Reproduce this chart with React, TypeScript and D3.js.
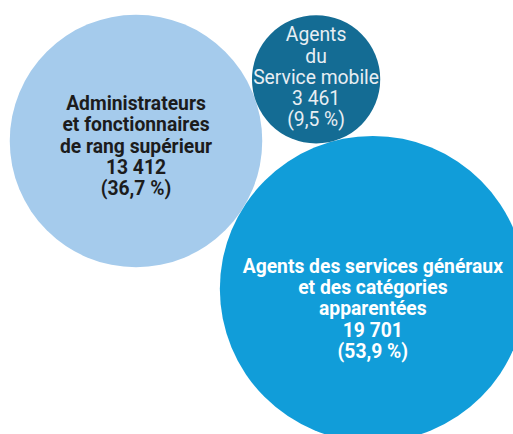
import React, { useRef, useEffect } from "react";
import * as d3 from "d3";

// catégories de personnel
const categories = [
  "Administrateurs et fonctionnaires de rang supérieur",
  "Agents des services généraux et des catégories apparentées",
  "Agents du Service mobile",
];
const labelLines = [
  ["Administrateurs", "et fonctionnaires", "de rang supérieur"],
  ["Agents des services généraux", "et des catégories", "apparentées"],
  ["Agents", "du", "Service mobile"],
];
const values = [13412, 19701, 3461];

const colors = ["#a5cbec", "#119dd9", "#146c94"];
const textColors = ["#1c1c1c", "#ffffff", "#e8eef3"];
const textWeights = [700, 700, 400];
const labelShift = [5, 20, -2];

const W = 513;
const H = 434;

const locale = d3.formatLocale({
  decimal: ",",
  thousands: "\u00a0",
  grouping: [3],
  currency: ["", " €"],
});
const fmtInt = locale.format(",d");
const fmtPct = locale.format(".1f");

const App: React.FC = () => {
  const svgRef = useRef<SVGSVGElement | null>(null);

  useEffect(() => {
    if (!svgRef.current) return;
    const svg = d3.select(svgRef.current);
    svg.selectAll("*").remove();

    const total = d3.sum(values);
    const r = d3.scaleSqrt().domain([0, d3.max(values)!]).range([0, 153]);

    const nodes = values.map((v, i) => ({ i, v, r: r(v), x: 0, y: 0 }));
    d3.packSiblings(nodes);

    // orienter la grappe : grand cercle en bas à droite, petit en haut
    const a = nodes[0];
    const b = nodes[1];
    const c = nodes[2];
    const cross = (b.x - a.x) * (c.y - a.y) - (b.y - a.y) * (c.x - a.x);
    if (cross > 0) nodes.forEach((n) => (n.y = -n.y));
    const cur = Math.atan2(b.y - a.y, b.x - a.x);
    const target = Math.atan2(148, 237);
    const rot = target - cur;
    const ax = a.x;
    const ay = a.y;
    const anchor = [136, 141];
    const pos = nodes.map((n) => {
      const dx = n.x - ax;
      const dy = n.y - ay;
      return {
        ...n,
        x: anchor[0] + dx * Math.cos(rot) - dy * Math.sin(rot),
        y: anchor[1] + dx * Math.sin(rot) + dy * Math.cos(rot),
      };
    });

    const g = svg.append("g");
    g.selectAll("circle")
      .data(pos)
      .join("circle")
      .attr("cx", (d) => d.x)
      .attr("cy", (d) => d.y)
      .attr("r", (d) => d.r)
      .attr("fill", (d) => colors[d.i])
      .append("title")
      .text((d) => categories[d.i]);

    const lh = 21.2;
    pos.forEach((d) => {
      const lines = [
        ...labelLines[d.i],
        fmtInt(d.v),
        `(${fmtPct((d.v / total) * 100)}\u00a0%)`,
      ];
      const y0 = d.y + labelShift[d.i] - ((lines.length - 1) * lh) / 2;
      const t = g
        .append("text")
        .attr("text-anchor", "middle")
        .attr("fill", textColors[d.i])
        .attr("font-family", "Roboto, sans-serif")
        .attr("font-size", "19.3px")
        .attr("font-weight", textWeights[d.i]);
      lines.forEach((l, k) => {
        t.append("tspan")
          .attr("x", d.x)
          .attr("y", y0 + k * lh)
          .attr("dominant-baseline", "central")
          .text(l);
      });
    });
  }, []);

  return (
    <svg
      ref={svgRef}
      width={W}
      height={H}
      viewBox={`0 0 ${W} ${H}`}
      style={{ position: "absolute", left: 0, top: 0, display: "block" }}
    />
  );
};

export default App;
